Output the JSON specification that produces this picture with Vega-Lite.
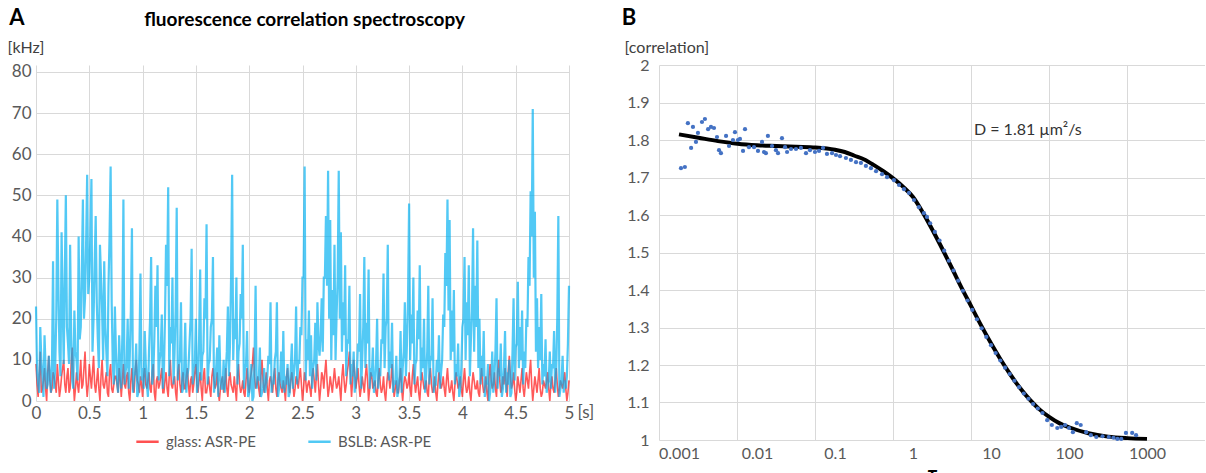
{
"$schema": "https://vega.github.io/schema/vega-lite/v6.json",
"background": "white",
"padding": {"left": 7, "top": 7, "right": 0, "bottom": 0},
"spacing": 27,
"config": {"font": "Lato", "view": {"stroke": null}, "axis": {"gridColor": "#D9D9D9", "gridWidth": 1, "labelColor": "#595959", "labelFont": "Lato", "domain": false, "ticks": false, "titleFont": "Lato", "labelOverlap": false}, "legend": {"labelFont": "Lato"}},
"datasets": {
"fcs": [
{"t":0,"g":9,"b":23},{"t":0.01,"g":4,"b":7},{"t":0.02,"g":1,"b":4},{"t":0.03,"g":6,"b":2},{"t":0.04,"g":12,"b":18},{"t":0.05,"g":2,"b":10},{"t":0.06,"g":3,"b":6},{"t":0.07,"g":5,"b":1},{"t":0.08,"g":8,"b":16},{"t":0.09,"g":3,"b":8},
{"t":0.1,"g":0,"b":3},{"t":0.11,"g":7,"b":4},{"t":0.12,"g":11,"b":11},{"t":0.13,"g":5,"b":6},{"t":0.14,"g":2,"b":2},{"t":0.15,"g":3,"b":9},{"t":0.16,"g":7,"b":34},{"t":0.17,"g":6,"b":3},{"t":0.18,"g":4,"b":8},{"t":0.19,"g":2,"b":20},
{"t":0.2,"g":9,"b":49},{"t":0.21,"g":5,"b":28},{"t":0.22,"g":1,"b":12},{"t":0.23,"g":3,"b":6},{"t":0.24,"g":6,"b":41},{"t":0.25,"g":8,"b":24},{"t":0.26,"g":10,"b":9},{"t":0.27,"g":4,"b":30},{"t":0.28,"g":2,"b":50},{"t":0.29,"g":6,"b":18},
{"t":0.3,"g":8,"b":14},{"t":0.31,"g":2,"b":9},{"t":0.32,"g":3,"b":38},{"t":0.33,"g":9,"b":16},{"t":0.34,"g":13,"b":5},{"t":0.35,"g":5,"b":3},{"t":0.36,"g":0,"b":22},{"t":0.37,"g":3,"b":12},{"t":0.38,"g":7,"b":10},{"t":0.39,"g":4,"b":5},
{"t":0.4,"g":2,"b":40},{"t":0.41,"g":6,"b":15},{"t":0.42,"g":10,"b":18},{"t":0.43,"g":3,"b":32},{"t":0.44,"g":4,"b":49},{"t":0.45,"g":8,"b":20},{"t":0.46,"g":12,"b":25},{"t":0.47,"g":5,"b":38},{"t":0.48,"g":1,"b":55},{"t":0.49,"g":4,"b":26},
{"t":0.5,"g":9,"b":30},{"t":0.51,"g":6,"b":40},{"t":0.52,"g":3,"b":54},{"t":0.53,"g":7,"b":12},{"t":0.54,"g":11,"b":20},{"t":0.55,"g":4,"b":33},{"t":0.56,"g":2,"b":45},{"t":0.57,"g":5,"b":24},{"t":0.58,"g":8,"b":15},{"t":0.59,"g":3,"b":8},
{"t":0.6,"g":0,"b":38},{"t":0.61,"g":6,"b":30},{"t":0.62,"g":10,"b":22},{"t":0.63,"g":4,"b":10},{"t":0.64,"g":3,"b":34},{"t":0.65,"g":5,"b":18},{"t":0.66,"g":7,"b":12},{"t":0.67,"g":2,"b":6},{"t":0.68,"g":1,"b":28},{"t":0.69,"g":7,"b":40},
{"t":0.7,"g":9,"b":57},{"t":0.71,"g":3,"b":24},{"t":0.72,"g":2,"b":9},{"t":0.73,"g":4,"b":4},{"t":0.74,"g":6,"b":23},{"t":0.75,"g":6,"b":12},{"t":0.76,"g":4,"b":5},{"t":0.77,"g":2,"b":2},{"t":0.78,"g":8,"b":16},{"t":0.79,"g":5,"b":8},
{"t":0.8,"g":1,"b":3},{"t":0.81,"g":5,"b":16},{"t":0.82,"g":9,"b":49},{"t":0.83,"g":4,"b":4},{"t":0.84,"g":3,"b":7},{"t":0.85,"g":6,"b":9},{"t":0.86,"g":7,"b":20},{"t":0.87,"g":2,"b":3},{"t":0.88,"g":0,"b":11},{"t":0.89,"g":5,"b":22},
{"t":0.9,"g":8,"b":42},{"t":0.91,"g":3,"b":2},{"t":0.92,"g":2,"b":6},{"t":0.93,"g":7,"b":7},{"t":0.94,"g":10,"b":14},{"t":0.95,"g":5,"b":1},{"t":0.96,"g":4,"b":2},{"t":0.97,"g":2,"b":12},{"t":0.98,"g":6,"b":31},{"t":0.99,"g":4,"b":5},
{"t":1,"g":1,"b":8},{"t":1.01,"g":6,"b":3},{"t":1.02,"g":8,"b":17},{"t":1.03,"g":4,"b":9},{"t":1.04,"g":3,"b":4},{"t":1.05,"g":5,"b":1},{"t":1.06,"g":7,"b":12},{"t":1.07,"g":3,"b":20},{"t":1.08,"g":2,"b":35},{"t":1.09,"g":7,"b":4},
{"t":1.1,"g":9,"b":6},{"t":1.11,"g":2,"b":15},{"t":1.12,"g":0,"b":28},{"t":1.13,"g":5,"b":18},{"t":1.14,"g":6,"b":33},{"t":1.15,"g":3,"b":5},{"t":1.16,"g":4,"b":10},{"t":1.17,"g":6,"b":12},{"t":1.18,"g":8,"b":21},{"t":1.19,"g":2,"b":3},
{"t":1.2,"g":2,"b":7},{"t":1.21,"g":5,"b":20},{"t":1.22,"g":7,"b":38},{"t":1.23,"g":3,"b":28},{"t":1.24,"g":1,"b":52},{"t":1.25,"g":6,"b":6},{"t":1.26,"g":10,"b":18},{"t":1.27,"g":4,"b":14},{"t":1.28,"g":3,"b":30},{"t":1.29,"g":5,"b":4},
{"t":1.3,"g":6,"b":12},{"t":1.31,"g":2,"b":22},{"t":1.32,"g":0,"b":47},{"t":1.33,"g":7,"b":5},{"t":1.34,"g":9,"b":9},{"t":1.35,"g":4,"b":10},{"t":1.36,"g":2,"b":24},{"t":1.37,"g":5,"b":2},{"t":1.38,"g":7,"b":3},{"t":1.39,"g":3,"b":8},
{"t":1.4,"g":3,"b":19},{"t":1.41,"g":6,"b":2},{"t":1.42,"g":8,"b":6},{"t":1.43,"g":4,"b":8},{"t":1.44,"g":1,"b":14},{"t":1.45,"g":5,"b":20},{"t":1.46,"g":6,"b":37},{"t":1.47,"g":2,"b":4},{"t":1.48,"g":4,"b":8},{"t":1.49,"g":7,"b":9},
{"t":1.5,"g":9,"b":20},{"t":1.51,"g":4,"b":2},{"t":1.52,"g":2,"b":4},{"t":1.53,"g":5,"b":15},{"t":1.54,"g":7,"b":32},{"t":1.55,"g":3,"b":5},{"t":1.56,"g":0,"b":11},{"t":1.57,"g":6,"b":12},{"t":1.58,"g":8,"b":25},{"t":1.59,"g":2,"b":20},
{"t":1.6,"g":2,"b":43},{"t":1.61,"g":4,"b":4},{"t":1.62,"g":6,"b":9},{"t":1.63,"g":3,"b":10},{"t":1.64,"g":1,"b":18},{"t":1.65,"g":6,"b":20},{"t":1.66,"g":8,"b":35},{"t":1.67,"g":5,"b":2},{"t":1.68,"g":3,"b":5},{"t":1.69,"g":4,"b":8},
{"t":1.7,"g":7,"b":13},{"t":1.71,"g":2,"b":1},{"t":1.72,"g":0,"b":16},{"t":1.73,"g":3,"b":6},{"t":1.74,"g":5,"b":3},{"t":1.75,"g":6,"b":3},{"t":1.76,"g":2,"b":10},{"t":1.77,"g":4,"b":2},{"t":1.78,"g":8,"b":7},{"t":1.79,"g":3,"b":12},
{"t":1.8,"g":1,"b":23},{"t":1.81,"g":5,"b":6},{"t":1.82,"g":7,"b":14},{"t":1.83,"g":4,"b":30},{"t":1.84,"g":3,"b":55},{"t":1.85,"g":2,"b":10},{"t":1.86,"g":6,"b":20},{"t":1.87,"g":3,"b":15},{"t":1.88,"g":0,"b":30},{"t":1.89,"g":6,"b":4},
{"t":1.9,"g":9,"b":12},{"t":1.91,"g":4,"b":14},{"t":1.92,"g":2,"b":26},{"t":1.93,"g":3,"b":20},{"t":1.94,"g":5,"b":38},{"t":1.95,"g":2,"b":3},{"t":1.96,"g":1,"b":8},{"t":1.97,"g":5,"b":9},{"t":1.98,"g":8,"b":17},{"t":1.99,"g":4,"b":1},
{"t":2,"g":2,"b":2},{"t":2.01,"g":5,"b":4},{"t":2.02,"g":7,"b":9},{"t":2.03,"g":9,"b":0},{"t":2.04,"g":13,"b":1},{"t":2.05,"g":6,"b":10},{"t":2.06,"g":3,"b":28},{"t":2.07,"g":4,"b":3},{"t":2.08,"g":6,"b":6},{"t":2.09,"g":3,"b":5},
{"t":2.1,"g":1,"b":13},{"t":2.11,"g":6,"b":1},{"t":2.12,"g":10,"b":2},{"t":2.13,"g":5,"b":3},{"t":2.14,"g":2,"b":8},{"t":2.15,"g":4,"b":2},{"t":2.16,"g":7,"b":4},{"t":2.17,"g":3,"b":6},{"t":2.18,"g":0,"b":11},{"t":2.19,"g":5,"b":9},
{"t":2.2,"g":6,"b":24},{"t":2.21,"g":4,"b":2},{"t":2.22,"g":2,"b":5},{"t":2.23,"g":6,"b":4},{"t":2.24,"g":8,"b":10},{"t":2.25,"g":3,"b":12},{"t":2.26,"g":1,"b":24},{"t":2.27,"g":5,"b":1},{"t":2.28,"g":7,"b":3},{"t":2.29,"g":4,"b":6},
{"t":2.3,"g":3,"b":12},{"t":2.31,"g":2,"b":3},{"t":2.32,"g":5,"b":17},{"t":2.33,"g":3,"b":2},{"t":2.34,"g":0,"b":6},{"t":2.35,"g":6,"b":4},{"t":2.36,"g":8,"b":9},{"t":2.37,"g":4,"b":1},{"t":2.38,"g":2,"b":2},{"t":2.39,"g":5,"b":8},
{"t":2.4,"g":7,"b":14},{"t":2.41,"g":4,"b":3},{"t":2.42,"g":1,"b":7},{"t":2.43,"g":3,"b":10},{"t":2.44,"g":6,"b":23},{"t":2.45,"g":5,"b":4},{"t":2.46,"g":3,"b":10},{"t":2.47,"g":6,"b":9},{"t":2.48,"g":8,"b":18},{"t":2.49,"g":4,"b":16},
{"t":2.5,"g":0,"b":30},{"t":2.51,"g":3,"b":30},{"t":2.52,"g":7,"b":57},{"t":2.53,"g":5,"b":5},{"t":2.54,"g":2,"b":15},{"t":2.55,"g":4,"b":10},{"t":2.56,"g":5,"b":22},{"t":2.57,"g":3,"b":6},{"t":2.58,"g":1,"b":16},{"t":2.59,"g":6,"b":3},
{"t":2.6,"g":8,"b":8},{"t":2.61,"g":5,"b":10},{"t":2.62,"g":2,"b":19},{"t":2.63,"g":6,"b":5},{"t":2.64,"g":9,"b":24},{"t":2.65,"g":4,"b":14},{"t":2.66,"g":0,"b":11},{"t":2.67,"g":3,"b":16},{"t":2.68,"g":7,"b":25},{"t":2.69,"g":6,"b":12},
{"t":2.7,"g":3,"b":30},{"t":2.71,"g":7,"b":30},{"t":2.72,"g":10,"b":45},{"t":2.73,"g":5,"b":28},{"t":2.74,"g":1,"b":56},{"t":2.75,"g":3,"b":20},{"t":2.76,"g":6,"b":44},{"t":2.77,"g":4,"b":10},{"t":2.78,"g":2,"b":27},{"t":2.79,"g":5,"b":16},
{"t":2.8,"g":8,"b":38},{"t":2.81,"g":5,"b":10},{"t":2.82,"g":3,"b":21},{"t":2.83,"g":4,"b":30},{"t":2.84,"g":6,"b":56},{"t":2.85,"g":3,"b":20},{"t":2.86,"g":0,"b":41},{"t":2.87,"g":6,"b":12},{"t":2.88,"g":9,"b":24},{"t":2.89,"g":5,"b":16},
{"t":2.9,"g":2,"b":33},{"t":2.91,"g":4,"b":6},{"t":2.92,"g":7,"b":15},{"t":2.93,"g":9,"b":14},{"t":2.94,"g":12,"b":28},{"t":2.95,"g":6,"b":4},{"t":2.96,"g":1,"b":9},{"t":2.97,"g":5,"b":6},{"t":2.98,"g":10,"b":12},{"t":2.99,"g":7,"b":2},
{"t":3,"g":3,"b":5},{"t":3.01,"g":5,"b":6},{"t":3.02,"g":8,"b":14},{"t":3.03,"g":4,"b":12},{"t":3.04,"g":1,"b":26},{"t":3.05,"g":3,"b":3},{"t":3.06,"g":6,"b":10},{"t":3.07,"g":4,"b":18},{"t":3.08,"g":2,"b":35},{"t":3.09,"g":6,"b":8},
{"t":3.1,"g":9,"b":19},{"t":3.11,"g":5,"b":14},{"t":3.12,"g":0,"b":32},{"t":3.13,"g":3,"b":3},{"t":3.14,"g":7,"b":8},{"t":3.15,"g":6,"b":6},{"t":3.16,"g":3,"b":13},{"t":3.17,"g":4,"b":2},{"t":3.18,"g":5,"b":4},{"t":3.19,"g":2,"b":9},
{"t":3.2,"g":1,"b":20},{"t":3.21,"g":5,"b":3},{"t":3.22,"g":8,"b":7},{"t":3.23,"g":4,"b":6},{"t":3.24,"g":2,"b":15},{"t":3.25,"g":3,"b":14},{"t":3.26,"g":6,"b":31},{"t":3.27,"g":2,"b":8},{"t":3.28,"g":0,"b":18},{"t":3.29,"g":4,"b":20},
{"t":3.3,"g":7,"b":38},{"t":3.31,"g":6,"b":5},{"t":3.32,"g":3,"b":12},{"t":3.33,"g":5,"b":8},{"t":3.34,"g":9,"b":19},{"t":3.35,"g":4,"b":2},{"t":3.36,"g":1,"b":5},{"t":3.37,"g":3,"b":4},{"t":3.38,"g":5,"b":11},{"t":3.39,"g":2,"b":1},
{"t":3.4,"g":2,"b":3},{"t":3.41,"g":5,"b":6},{"t":3.42,"g":8,"b":17},{"t":3.43,"g":3,"b":2},{"t":3.44,"g":0,"b":8},{"t":3.45,"g":4,"b":12},{"t":3.46,"g":6,"b":24},{"t":3.47,"g":5,"b":6},{"t":3.48,"g":3,"b":14},{"t":3.49,"g":4,"b":25},
{"t":3.5,"g":7,"b":48},{"t":3.51,"g":3,"b":10},{"t":3.52,"g":1,"b":21},{"t":3.53,"g":6,"b":14},{"t":3.54,"g":9,"b":30},{"t":3.55,"g":5,"b":4},{"t":3.56,"g":2,"b":9},{"t":3.57,"g":4,"b":10},{"t":3.58,"g":6,"b":22},{"t":3.59,"g":2,"b":15},
{"t":3.6,"g":0,"b":33},{"t":3.61,"g":4,"b":5},{"t":3.62,"g":7,"b":13},{"t":3.63,"g":5,"b":8},{"t":3.64,"g":3,"b":20},{"t":3.65,"g":3,"b":2},{"t":3.66,"g":5,"b":6},{"t":3.67,"g":2,"b":12},{"t":3.68,"g":1,"b":28},{"t":3.69,"g":6,"b":4},
{"t":3.7,"g":8,"b":11},{"t":3.71,"g":4,"b":10},{"t":3.72,"g":2,"b":25},{"t":3.73,"g":3,"b":2},{"t":3.74,"g":6,"b":4},{"t":3.75,"g":2,"b":4},{"t":3.76,"g":0,"b":10},{"t":3.77,"g":4,"b":7},{"t":3.78,"g":7,"b":16},{"t":3.79,"g":5,"b":3},
{"t":3.8,"g":3,"b":7},{"t":3.81,"g":4,"b":10},{"t":3.82,"g":6,"b":21},{"t":3.83,"g":3,"b":18},{"t":3.84,"g":1,"b":36},{"t":3.85,"g":5,"b":28},{"t":3.86,"g":8,"b":49},{"t":3.87,"g":4,"b":22},{"t":3.88,"g":2,"b":44},{"t":3.89,"g":3,"b":10},
{"t":3.9,"g":5,"b":22},{"t":3.91,"g":2,"b":12},{"t":3.92,"g":0,"b":27},{"t":3.93,"g":4,"b":4},{"t":3.94,"g":7,"b":9},{"t":3.95,"g":5,"b":6},{"t":3.96,"g":3,"b":14},{"t":3.97,"g":4,"b":1},{"t":3.98,"g":6,"b":3},{"t":3.99,"g":3,"b":8},
{"t":4,"g":1,"b":18},{"t":4.01,"g":5,"b":20},{"t":4.02,"g":8,"b":35},{"t":4.03,"g":4,"b":10},{"t":4.04,"g":2,"b":24},{"t":4.05,"g":3,"b":16},{"t":4.06,"g":6,"b":33},{"t":4.07,"g":2,"b":6},{"t":4.08,"g":0,"b":15},{"t":4.09,"g":4,"b":22},
{"t":4.1,"g":7,"b":42},{"t":4.11,"g":5,"b":12},{"t":4.12,"g":3,"b":28},{"t":4.13,"g":3,"b":18},{"t":4.14,"g":5,"b":39},{"t":4.15,"g":2,"b":8},{"t":4.16,"g":1,"b":20},{"t":4.17,"g":5,"b":4},{"t":4.18,"g":8,"b":11},{"t":4.19,"g":4,"b":6},
{"t":4.2,"g":2,"b":17},{"t":4.21,"g":3,"b":1},{"t":4.22,"g":6,"b":5},{"t":4.23,"g":2,"b":4},{"t":4.24,"g":0,"b":9},{"t":4.25,"g":6,"b":0},{"t":4.26,"g":9,"b":2},{"t":4.27,"g":5,"b":5},{"t":4.28,"g":3,"b":12},{"t":4.29,"g":4,"b":2},
{"t":4.3,"g":7,"b":6},{"t":4.31,"g":3,"b":12},{"t":4.32,"g":1,"b":25},{"t":4.33,"g":7,"b":3},{"t":4.34,"g":10,"b":8},{"t":4.35,"g":5,"b":6},{"t":4.36,"g":2,"b":14},{"t":4.37,"g":3,"b":1},{"t":4.38,"g":6,"b":3},{"t":4.39,"g":4,"b":8},
{"t":4.4,"g":8,"b":17},{"t":4.41,"g":4,"b":2},{"t":4.42,"g":1,"b":7},{"t":4.43,"g":7,"b":4},{"t":4.44,"g":11,"b":10},{"t":4.45,"g":6,"b":1},{"t":4.46,"g":3,"b":2},{"t":4.47,"g":4,"b":12},{"t":4.48,"g":7,"b":25},{"t":4.49,"g":3,"b":5},
{"t":4.5,"g":0,"b":13},{"t":4.51,"g":2,"b":14},{"t":4.52,"g":6,"b":29},{"t":4.53,"g":4,"b":8},{"t":4.54,"g":2,"b":18},{"t":4.55,"g":5,"b":10},{"t":4.56,"g":8,"b":22},{"t":4.57,"g":3,"b":4},{"t":4.58,"g":1,"b":12},{"t":4.59,"g":4,"b":8},
{"t":4.6,"g":7,"b":20},{"t":4.61,"g":5,"b":18},{"t":4.62,"g":3,"b":35},{"t":4.63,"g":7,"b":28},{"t":4.64,"g":10,"b":51},{"t":4.65,"g":4,"b":40},{"t":4.66,"g":0,"b":71},{"t":4.67,"g":3,"b":30},{"t":4.68,"g":6,"b":46},{"t":4.69,"g":4,"b":12},
{"t":4.7,"g":2,"b":25},{"t":4.71,"g":5,"b":8},{"t":4.72,"g":8,"b":18},{"t":4.73,"g":3,"b":10},{"t":4.74,"g":1,"b":26},{"t":4.75,"g":2,"b":4},{"t":4.76,"g":5,"b":9},{"t":4.77,"g":4,"b":6},{"t":4.78,"g":3,"b":15},{"t":4.79,"g":5,"b":2},
{"t":4.8,"g":7,"b":4},{"t":4.81,"g":3,"b":5},{"t":4.82,"g":0,"b":12},{"t":4.83,"g":4,"b":3},{"t":4.84,"g":6,"b":9},{"t":4.85,"g":3,"b":8},{"t":4.86,"g":2,"b":17},{"t":4.87,"g":5,"b":2},{"t":4.88,"g":8,"b":7},{"t":4.89,"g":4,"b":20},
{"t":4.9,"g":1,"b":45},{"t":4.91,"g":3,"b":1},{"t":4.92,"g":5,"b":3},{"t":4.93,"g":4,"b":5},{"t":4.94,"g":3,"b":11},{"t":4.95,"g":5,"b":2},{"t":4.96,"g":7,"b":5},{"t":4.97,"g":3,"b":3},{"t":4.98,"g":0,"b":6},{"t":4.99,"g":2,"b":14},
{"t":5,"g":5,"b":28}
],
"pts": [
{"tau":0.00106,"g":1.725},{"tau":0.00119,"g":1.728},{"tau":0.0013,"g":1.845},{"tau":0.00143,"g":1.779},{"tau":0.00151,"g":1.835},{"tau":0.00165,"g":1.795},{"tau":0.00175,"g":1.819},{"tau":0.00197,"g":1.848},{"tau":0.00215,"g":1.856},{"tau":0.00236,"g":1.829},
{"tau":0.00257,"g":1.835},{"tau":0.00281,"g":1.832},{"tau":0.00307,"g":1.808},{"tau":0.00326,"g":1.773},{"tau":0.00345,"g":1.765},{"tau":0.00401,"g":1.811},{"tau":0.00438,"g":1.784},{"tau":0.00492,"g":1.8},{"tau":0.00522,"g":1.821},{"tau":0.0057,"g":1.8},
{"tau":0.00605,"g":1.803},{"tau":0.00662,"g":1.771},{"tau":0.00702,"g":1.829},{"tau":0.00789,"g":1.781},{"tau":0.00916,"g":1.781},{"tau":0.0103,"g":1.771},{"tau":0.0116,"g":1.795},{"tau":0.0123,"g":1.768},{"tau":0.013,"g":1.765},{"tau":0.0138,"g":1.811},
{"tau":0.0156,"g":1.784},{"tau":0.0175,"g":1.773},{"tau":0.0186,"g":1.765},{"tau":0.0209,"g":1.805},{"tau":0.0229,"g":1.781},{"tau":0.0243,"g":1.768},{"tau":0.0273,"g":1.776},{"tau":0.0316,"g":1.776},{"tau":0.0366,"g":1.779},{"tau":0.0425,"g":1.765},
{"tau":0.0478,"g":1.773},{"tau":0.0554,"g":1.768},{"tau":0.0624,"g":1.771},{"tau":0.0702,"g":1.779},{"tau":0.0789,"g":1.763},{"tau":0.0916,"g":1.765},{"tau":0.103,"g":1.76},{"tau":0.116,"g":1.757},{"tau":0.138,"g":1.752},{"tau":0.16,"g":1.747},
{"tau":0.186,"g":1.741},{"tau":0.215,"g":1.739},{"tau":0.249,"g":1.731},{"tau":0.289,"g":1.725},{"tau":0.336,"g":1.717},{"tau":0.401,"g":1.709},{"tau":0.465,"g":1.701},{"tau":0.57,"g":1.693},{"tau":0.662,"g":1.68},{"tau":0.767,"g":1.669},
{"tau":0.889,"g":1.659},{"tau":1.03,"g":1.64},{"tau":1.19,"g":1.621},{"tau":1.38,"g":1.605},{"tau":1.51,"g":1.595},{"tau":1.66,"g":1.578},{"tau":1.905,"g":1.555},{"tau":2.188,"g":1.532},{"tau":2.512,"g":1.505},{"tau":2.884,"g":1.478},
{"tau":3.311,"g":1.452},{"tau":3.802,"g":1.425},{"tau":4.365,"g":1.398},{"tau":5.012,"g":1.372},{"tau":5.754,"g":1.347},{"tau":6.607,"g":1.322},{"tau":7.586,"g":1.298},{"tau":8.71,"g":1.275},{"tau":10,"g":1.253},{"tau":11.48,"g":1.232},
{"tau":13.18,"g":1.212},{"tau":15.14,"g":1.193},{"tau":17.38,"g":1.176},{"tau":19.95,"g":1.158},{"tau":22.91,"g":1.141},{"tau":26.3,"g":1.124},{"tau":30.2,"g":1.11},{"tau":34.67,"g":1.096},{"tau":39.81,"g":1.084},{"tau":45.71,"g":1.072},
{"tau":52.48,"g":1.053},{"tau":60.26,"g":1.04},{"tau":70.79,"g":1.032},{"tau":79.43,"g":1.035},{"tau":89.13,"g":1.04},{"tau":100,"g":1.032},{"tau":112.2,"g":1.021},{"tau":125.9,"g":1.045},{"tau":141.3,"g":1.04},{"tau":166,"g":1.021},
{"tau":190.5,"g":1.013},{"tau":223.9,"g":1.008},{"tau":269.2,"g":1.01},{"tau":323.6,"g":1.008},{"tau":371.5,"g":1.006},{"tau":416.9,"g":1.003},{"tau":467.7,"g":1.003},{"tau":537,"g":1.019},{"tau":645.7,"g":1.019},{"tau":724.4,"g":1.013}
],
"fit": [
{"tau":0.001,"fit":1.815},{"tau":0.001778,"fit":1.806},{"tau":0.003162,"fit":1.797},{"tau":0.005623,"fit":1.79},{"tau":0.01,"fit":1.786},{"tau":0.01778,"fit":1.784},{"tau":0.03162,"fit":1.782},{"tau":0.05623,"fit":1.78},{"tau":0.1,"fit":1.774},
{"tau":0.1334,"fit":1.768},{"tau":0.1778,"fit":1.758},{"tau":0.2371,"fit":1.748},{"tau":0.3162,"fit":1.733},{"tau":0.4217,"fit":1.716},{"tau":0.5623,"fit":1.697},{"tau":0.7499,"fit":1.675},{"tau":1,"fit":1.648},
{"tau":1.334,"fit":1.607},{"tau":1.778,"fit":1.56},{"tau":2.371,"fit":1.51},{"tau":3.162,"fit":1.458},{"tau":4.217,"fit":1.405},{"tau":5.623,"fit":1.355},{"tau":7.499,"fit":1.305},{"tau":10,"fit":1.258},
{"tau":13.34,"fit":1.214},{"tau":17.78,"fit":1.174},{"tau":23.71,"fit":1.138},{"tau":31.62,"fit":1.107},{"tau":42.17,"fit":1.081},{"tau":56.23,"fit":1.061},{"tau":74.99,"fit":1.045},{"tau":100,"fit":1.034},
{"tau":177.8,"fit":1.018},{"tau":316.2,"fit":1.009},{"tau":562.3,"fit":1.005},{"tau":1000,"fit":1.003}
]
},
"hconcat": [
{
"width": 533,
"height": 336,
"layer": [
{
"data": {"name": "fcs"},
"mark": {"type": "line", "strokeWidth": 1.6, "opacity": 0.65},
"encoding": {
"x": {"field": "t", "type": "quantitative", "scale": {"domain": [0, 5], "nice": false, "zero": false},
"axis": {"values": [0, 0.5, 1, 1.5, 2, 2.5, 3, 3.5, 4, 4.5, 5], "format": "~g", "grid": true, "labelFontSize": 17, "labelPadding": 4, "labelFlush": false,
"title": "[s]", "titleFontSize": 17, "titleFontWeight": "normal", "titleColor": "#595959", "titleAlign": "left", "titleBaseline": "top", "titleX": 541, "titleY": 3}},
"y": {"field": "g", "type": "quantitative", "scale": {"domain": [0, 81.7], "nice": false},
"axis": {"values": [0, 10, 20, 30, 40, 50, 60, 70, 80], "grid": true, "labelFontSize": 17, "labelPadding": 5,
"title": "[kHz]", "titleFontSize": 16, "titleFontWeight": "normal", "titleColor": "#404040", "titleAngle": 0, "titleAlign": "left", "titleBaseline": "alphabetic", "titleX": -29, "titleY": -13}},
"color": {"datum": "glass: ASR-PE", "type": "nominal",
"scale": {"domain": ["glass: ASR-PE", "BSLB: ASR-PE"], "range": ["#FF0000", "#00B0F0"]},
"legend": {"orient": "none", "legendX": 99, "legendY": 364, "direction": "horizontal", "title": null, "symbolType": "stroke", "symbolSize": 500, "symbolStrokeWidth": 2.5, "symbolOpacity": 0.65, "labelFontSize": 15, "labelColor": "#595959", "columnPadding": 46, "labelOffset": 6}}
}
},
{
"data": {"name": "fcs"},
"mark": {"type": "line", "strokeWidth": 2.2, "opacity": 0.68},
"encoding": {
"x": {"field": "t", "type": "quantitative"},
"y": {"field": "b", "type": "quantitative"},
"color": {"datum": "BSLB: ASR-PE", "type": "nominal"}
}
},
{
"data": {"values": [{"label": "A"}]},
"mark": {"type": "text", "fontSize": 22, "fontWeight": "bold", "color": "#000000", "align": "center", "baseline": "middle"},
"encoding": {"x": {"datum": -0.18}, "y": {"datum": 93.1}, "text": {"field": "label"}}
},
{
"data": {"values": [{"label": "fluorescence correlation spectroscopy"}]},
"mark": {"type": "text", "fontSize": 19, "fontWeight": "bold", "color": "#000000", "align": "center", "baseline": "middle"},
"encoding": {"x": {"datum": 2.52}, "y": {"datum": 92.6}, "text": {"field": "label"}}
}
]
},
{
"width": 546,
"height": 375,
"layer": [
{
"data": {"name": "fit"},
"mark": {"type": "line", "color": "#000000", "strokeWidth": 4, "interpolate": "monotone"},
"encoding": {
"x": {"field": "tau", "type": "quantitative", "scale": {"type": "log", "domain": [0.0005542, 5542], "nice": false},
"axis": {"orient": "bottom", "values": [0.001, 0.01, 0.1, 1, 10, 100, 1000], "format": "~g", "grid": false, "labelFontSize": 16, "labelPadding": 5, "labelFlush": false,
"title": "τ", "titleFontSize": 20, "titleFontWeight": "bold", "titleColor": "#000000", "titleBaseline": "top", "titleY": 24}},
"y": {"field": "fit", "type": "quantitative", "scale": {"domain": [1, 2], "nice": false, "zero": false},
"axis": {"values": [1, 1.1, 1.2, 1.3, 1.4, 1.5, 1.6, 1.7, 1.8, 1.9, 2], "format": "~g", "grid": true, "labelFontSize": 16, "labelPadding": 10,
"title": "[correlation]", "titleFontSize": 16, "titleFontWeight": "normal", "titleColor": "#404040", "titleAngle": 0, "titleAlign": "left", "titleBaseline": "alphabetic", "titleX": -35, "titleY": -13}}
}
},
{
"data": {"name": "pts"},
"mark": {"type": "circle", "size": 18, "color": "#4472C4", "opacity": 1},
"encoding": {
"x": {"field": "tau", "type": "quantitative",
"axis": {"orient": "top", "values": [0.0005542, 0.005542, 0.05542, 0.5542, 5.542, 55.42, 554.2], "grid": true, "labels": false, "title": null}},
"y": {"field": "g", "type": "quantitative",
"axis": {"values": [1, 1.1, 1.2, 1.3, 1.4, 1.5, 1.6, 1.7, 1.8, 1.9, 2], "format": "~g", "grid": true, "labelFontSize": 16, "labelPadding": 10,
"title": "[correlation]", "titleFontSize": 16, "titleFontWeight": "normal", "titleColor": "#404040", "titleAngle": 0, "titleAlign": "left", "titleBaseline": "alphabetic", "titleX": -35, "titleY": -13}}
}
},
{
"data": {"values": [{"label": "D = 1.81 µm²/s"}]},
"mark": {"type": "text", "fontSize": 16, "color": "#333333", "align": "left", "baseline": "middle"},
"encoding": {"x": {"datum": 6.05, "axis": null},
"y": {"datum": 1.827, "axis": {"values": [1, 1.1, 1.2, 1.3, 1.4, 1.5, 1.6, 1.7, 1.8, 1.9, 2], "format": "~g", "grid": true, "labelFontSize": 16, "labelPadding": 10,
"title": "[correlation]", "titleFontSize": 16, "titleFontWeight": "normal", "titleColor": "#404040", "titleAngle": 0, "titleAlign": "left", "titleBaseline": "alphabetic", "titleX": -35, "titleY": -13}},
"text": {"field": "label"}}
},
{
"data": {"values": [{"label": "B"}]},
"mark": {"type": "text", "fontSize": 22, "fontWeight": "bold", "color": "#000000", "align": "center", "baseline": "middle"},
"encoding": {"x": {"datum": 0.000228, "axis": null},
"y": {"datum": 2.125, "axis": {"values": [1, 1.1, 1.2, 1.3, 1.4, 1.5, 1.6, 1.7, 1.8, 1.9, 2], "format": "~g", "grid": true, "labelFontSize": 16, "labelPadding": 10,
"title": "[correlation]", "titleFontSize": 16, "titleFontWeight": "normal", "titleColor": "#404040", "titleAngle": 0, "titleAlign": "left", "titleBaseline": "alphabetic", "titleX": -35, "titleY": -13}},
"text": {"field": "label"}}
}
],
"resolve": {"axis": {"x": "independent"}}
}
]
}
